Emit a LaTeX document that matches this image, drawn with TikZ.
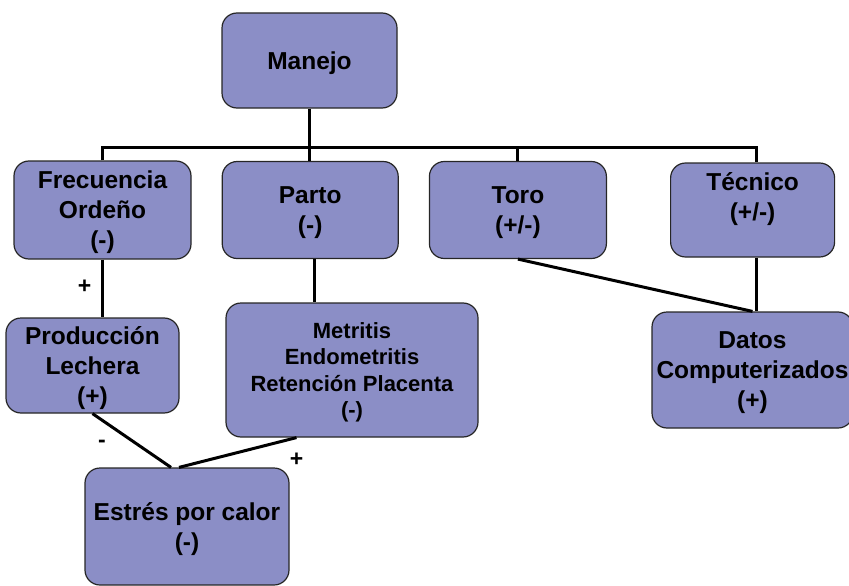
\documentclass[tikz,border=0pt]{standalone}
\usepackage{fontspec}
\setmainfont{Liberation Sans}
\usetikzlibrary{positioning}
\definecolor{boxfill}{RGB}{139,142,198}

\begin{document}
\begin{tikzpicture}[
		x=1pt, y=-1pt,
		box/.style={rectangle, draw=black!85, line width=1.2pt, fill=boxfill, rounded corners=15pt, align=center, inner sep=0pt, text depth=-3pt, font=\bfseries\fontsize{24.5}{30}\selectfont},  % cajas principales
		smallbox/.style={box, text depth=0pt, font=\bfseries\fontsize{22}{26.5}\selectfont},  % texto mas chico
		conn/.style={line width=3pt},  % lineas de union
		sign/.style={inner sep=0pt, font=\bfseries\fontsize{23}{26}\selectfont}
		]
		\useasboundingbox (0,0) rectangle (849,586);
		% arriba
		\node[box, minimum width=175pt, minimum height=95pt, text depth=-5pt] (manejo) at (309.5,60.5) {Manejo};
		% segunda fila - de izquierda a derecha
		\node[box, minimum width=177pt, minimum height=98pt] (frec) at (102.5,210) {Frecuencia\\Ordeño\\(-)};
		\node[box, minimum width=176pt, minimum height=97pt, right=30pt of frec] (parto) {Parto\\(-)};
		\node[box, minimum width=177pt, minimum height=97pt, right=30pt of parto] (toro) {Toro\\(+/-)};
		\node[box, minimum width=164pt, minimum height=94pt, text depth=26pt, right=63pt of toro] (tecnico) {Técnico\\(+/-)};
		% tercera fila
		\node[box, minimum width=173pt, minimum height=95pt] (prod) at (92.5,365.5) {Producción\\Lechera\\(+)};
		\node[smallbox, minimum width=252pt, minimum height=134pt] (metr) at (352,370) {Metritis\\Endometritis\\Retención Placenta\\(-)};
		\node[box, minimum width=201pt, minimum height=116pt, text depth=-5pt] (datos) at (752.5,370) {Datos\\Computerizados\\(+)};
		% abajo
		\node[box, minimum width=204pt, minimum height=117pt, text depth=-8pt] (estres) at (187,526.5) {Estrés por calor\\(-)};
		% lineas - arbol de Manejo
		\coordinate (bus) at (0,147);
		\draw[conn] (manejo.south) -- (manejo.south |- parto.north);
		\draw[conn] (frec.north) |- ([xshift=4pt]tecnico.north |- bus) -- ([xshift=4pt]tecnico.north);
		\draw[conn] (toro.north |- bus) -- (toro.north);
		% lineas hacia la tercera fila
		\draw[conn] (frec.south) -- (frec.south |- prod.north);
		\draw[conn] ([xshift=4pt]parto.south) -- ([xshift=4pt]parto.south |- metr.north);
		\draw[conn] (toro.south) -- (datos.north);
		\draw[conn] ([xshift=4pt]tecnico.south) -- ([xshift=4pt]tecnico.south |- datos.north);
		% lineas hacia Estres por calor
		\draw[conn] (prod.south) -- ([xshift=-16pt]estres.north);
		\draw[conn] ([xshift=-55.5pt]metr.south) -- ([xshift=-8pt]estres.north);
		% signos
		\node[sign] (signfrec) at (84.5,287) {+};
		\node[sign] (signprod) at (102,444) {-};
		\node[sign] (signmetr) at (296.5,460) {+};
\end{tikzpicture}
\end{document}
